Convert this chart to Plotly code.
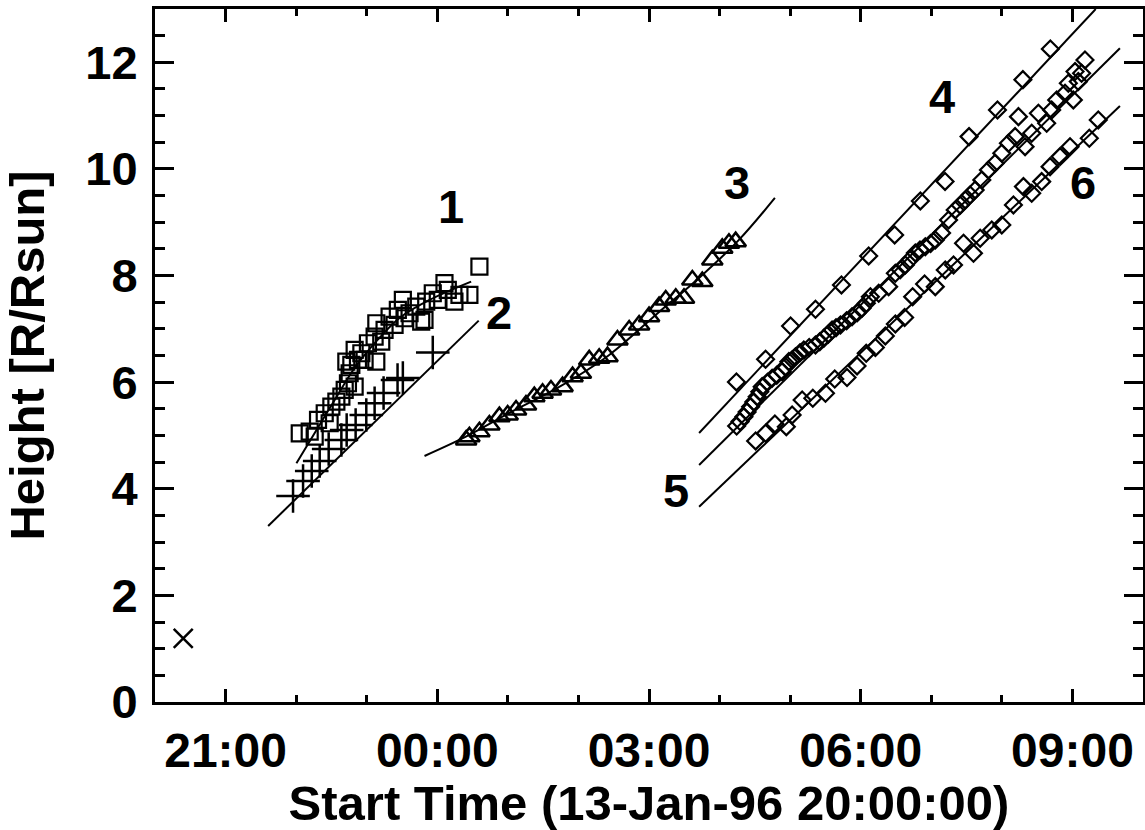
import plotly.graph_objects as go

# x: hours since 13-Jan-96 20:00:00 ; y: height in R/Rsun
s1_x = [2.051, 2.192, 2.263, 2.310, 2.405, 2.475, 2.499, 2.570, 2.641, 2.688, 2.734, 2.829, 2.758, 2.711,
        2.782, 2.876, 2.829, 2.924, 2.970, 3.017, 3.112, 3.136, 3.206, 3.136, 3.253, 3.324, 3.395, 3.441,
        3.512, 3.536, 3.607, 3.702, 3.772, 3.819, 3.843, 3.936, 4.007, 4.102, 4.149, 4.243, 4.314, 4.455, 4.597]
s1_y = [5.041, 5.071, 4.977, 5.291, 5.417, 5.229, 5.540, 5.634, 5.728, 5.854, 5.979, 5.916, 6.167, 6.385,
        6.323, 6.417, 6.604, 6.542, 6.417, 6.730, 6.854, 7.105, 6.760, 6.385, 6.979, 7.229, 7.073, 7.355,
        7.542, 7.199, 7.293, 7.417, 7.135, 7.167, 7.510, 7.668, 7.542, 7.856, 7.730, 7.510, 7.636, 7.636, 8.167]

s2_x = [1.956, 2.098, 2.221, 2.334, 2.461, 2.641, 2.716, 2.843, 2.994, 3.112, 3.239, 3.437, 3.512, 3.936]
s2_y = [3.865, 4.146, 4.334, 4.522, 4.747, 4.916, 5.103, 5.197, 5.385, 5.604, 5.797, 6.041, 6.079, 6.557]

s3_x = [4.409, 4.455, 4.597, 4.738, 4.880, 4.997, 5.116, 5.257, 5.375, 5.492, 5.611, 5.775, 5.917, 6.035,
        6.153, 6.294, 6.412, 6.553, 6.719, 6.860, 7.001, 7.143, 7.237, 7.379, 7.496, 7.614, 7.755, 7.897,
        8.038, 8.133, 8.228]
s3_y = [4.916, 4.977, 5.071, 5.197, 5.353, 5.385, 5.478, 5.572, 5.728, 5.792, 5.854, 5.916, 6.103, 6.167,
        6.417, 6.448, 6.478, 6.792, 6.979, 7.073, 7.229, 7.417, 7.542, 7.574, 7.574, 7.917, 7.886, 8.293,
        8.512, 8.606, 8.636]

s4_x = [8.239, 8.652, 9.006, 9.359, 9.727, 10.113, 10.481, 10.845, 11.195, 11.535, 11.938, 12.298, 12.687]
s4_y = [6.004, 6.430, 7.054, 7.368, 7.824, 8.368, 8.762, 9.400, 9.765, 10.606, 11.107, 11.675, 12.251]

s5_x = [8.242, 8.290, 8.345, 8.390, 8.440, 8.485, 8.533, 8.570, 8.604, 8.680, 8.745, 8.810, 8.887, 8.935,
        8.982, 9.030, 9.076, 9.140, 9.194, 9.270, 9.359, 9.420, 9.477, 9.540, 9.594, 9.650, 9.713, 9.800,
        9.877, 9.950, 10.018, 10.080, 10.137, 10.255, 10.396, 10.491, 10.560, 10.632, 10.700, 10.774,
        10.840, 10.915, 10.990, 11.057, 11.146, 11.245, 11.339, 11.410, 11.481, 11.550, 11.622, 11.716,
        11.810, 11.905, 11.999, 12.093, 12.188, 12.235, 12.329, 12.423, 12.518, 12.635, 12.706, 12.777,
        12.895, 12.942, 13.013, 13.037, 13.083, 13.130, 13.178]
s5_y = [5.178, 5.260, 5.353, 5.440, 5.540, 5.630, 5.728, 5.820, 5.916, 6.000, 6.073, 6.130, 6.197, 6.290,
        6.385, 6.420, 6.478, 6.550, 6.604, 6.650, 6.698, 6.760, 6.824, 6.900, 6.979, 7.020, 7.073, 7.150,
        7.229, 7.300, 7.386, 7.480, 7.604, 7.668, 7.792, 8.043, 8.110, 8.199, 8.300, 8.424, 8.480, 8.542,
        8.600, 8.668, 8.799, 9.043, 9.231, 9.320, 9.418, 9.510, 9.606, 9.794, 9.981, 10.107, 10.295,
        10.482, 10.606, 10.981, 10.418, 10.670, 11.045, 10.857, 11.107, 11.295, 11.420, 11.608, 11.295,
        11.826, 11.638, 11.795, 12.045]

s6_x = [8.511, 8.652, 8.784, 8.946, 9.028, 9.170, 9.321, 9.501, 9.632, 9.806, 9.948, 10.078, 10.208,
        10.349, 10.491, 10.622, 10.736, 10.905, 11.057, 11.198, 11.315, 11.457, 11.598, 11.693, 11.857,
        11.999, 12.164, 12.306, 12.423, 12.564, 12.683, 12.825, 12.966, 13.239, 13.366]
s6_y = [4.897, 5.041, 5.216, 5.165, 5.385, 5.666, 5.698, 5.792, 6.060, 6.088, 6.304, 6.542, 6.651,
        6.867, 7.092, 7.214, 7.604, 7.842, 7.792, 8.105, 8.199, 8.606, 8.418, 8.700, 8.856,
        8.949, 9.325, 9.668, 9.544, 9.762, 10.043, 10.231, 10.418, 10.576, 10.919]

x_mark_x = [0.400]
x_mark_y = [1.195]

# fitted curves
fit1_x = [2.004, 2.263, 2.546, 2.829, 3.154, 3.465, 3.890, 4.480]
fit1_y = [4.478, 5.047, 5.666, 6.266, 6.792, 7.205, 7.542, 7.886]
fit2_x = [1.603, 4.587]
fit2_y = [3.302, 7.154]
fit3_x = [3.819, 4.399, 5.021, 5.728, 6.436, 7.143, 7.709, 8.274, 8.784]
fit3_y = [4.615, 4.972, 5.422, 5.910, 6.510, 7.317, 7.955, 8.668, 9.456]
fit4_x = [7.71, 13.33]
fit4_y = [5.047, 13.0]
fit5_x = [7.71, 13.673]
fit5_y = [4.447, 12.264]
fit6_x = [7.71, 13.673]
fit6_y = [3.664, 11.182]

labels = ["1", "2", "3", "4", "5", "6"]
label_x = [4.201, 4.880, 8.246, 11.146, 7.383, 13.154]
label_y = [9.287, 7.298, 9.737, 11.351, 3.977, 9.737]

tick_vals = [1, 4, 7, 10, 13]
tick_text = ["21:00", "00:00", "03:00", "06:00", "09:00"]

FONT = "Liberation Sans, Arial, Helvetica, sans-serif"
fig = go.Figure()

def line(x, y, shape="linear"):
    fig.add_trace(go.Scatter(x=x, y=y, mode="lines", line=dict(color="black", width=2, shape=shape),
                             showlegend=False, hoverinfo="skip"))

def pts(x, y, symbol, size, lw):
    fig.add_trace(go.Scatter(x=x, y=y, mode="markers",
                             marker=dict(symbol=symbol, size=size, color="black",
                                         line=dict(color="black", width=lw)),
                             showlegend=False))

line(fit1_x, fit1_y, "spline")
line(fit2_x, fit2_y)
line(fit3_x, fit3_y, "spline")
line(fit4_x, fit4_y)
line(fit5_x, fit5_y)
line(fit6_x, fit6_y)

pts(s1_x, s1_y, "square-open", 16, 2.2)
pts(s2_x, s2_y, "cross-thin-open", 24, 2.5)
pts(s3_x, s3_y, "triangle-up-open", 18, 2.5)
pts(s4_x, s4_y, "diamond-open", 13, 2.2)
pts(s5_x, s5_y, "diamond-open", 13, 2.2)
pts(s6_x, s6_y, "diamond-open", 13, 2.2)
pts(x_mark_x, x_mark_y, "x-thin-open", 19, 2.5)

for t, x, y in zip(labels, label_x, label_y):
    fig.add_annotation(x=x, y=y, text=t, showarrow=False,
                       font=dict(family=FONT, size=47, color="black", weight="bold"))

fig.update_layout(
    width=1145, height=830,
    margin=dict(l=155, r=2, t=9, b=128),
    paper_bgcolor="white", plot_bgcolor="white",
    xaxis=dict(range=[0, 14], tickvals=tick_vals, ticktext=tick_text, automargin=False,
               showgrid=False, zeroline=False, showline=True, linecolor="black", linewidth=3,
               mirror="ticks", ticks="inside", ticklen=13, tickwidth=2.5, tickcolor="black",
               minor=dict(ticks="inside", dtick=1, tick0=0, ticklen=7, tickwidth=2.5, tickcolor="black"),
               tickfont=dict(family=FONT, size=48, color="black", weight="bold"),
               ticklabelstandoff=4,
               title=dict(text="Start Time (13-Jan-96 20:00:00)", standoff=0,
                          font=dict(family=FONT, size=49, color="black", weight="bold"))),
    yaxis=dict(range=[0, 13], tickvals=[0, 2, 4, 6, 8, 10, 12], automargin=False,
               showgrid=False, zeroline=False, showline=True, linecolor="black", linewidth=3,
               mirror="ticks", ticks="inside", ticklen=19, tickwidth=2.5, tickcolor="black",
               minor=dict(ticks="inside", dtick=0.5, tick0=0, ticklen=10, tickwidth=2.5, tickcolor="black"),
               tickfont=dict(family=FONT, size=47, color="black", weight="bold"),
               ticklabelstandoff=5,
               title=dict(text="Height [R/Rsun]", standoff=27,
                          font=dict(family=FONT, size=49, color="black", weight="bold"))),
)

fig.write_html("out.html", config={"displayModeBar": False},
               post_script="document.body.style.margin='0px';document.body.style.overflow='hidden';")
